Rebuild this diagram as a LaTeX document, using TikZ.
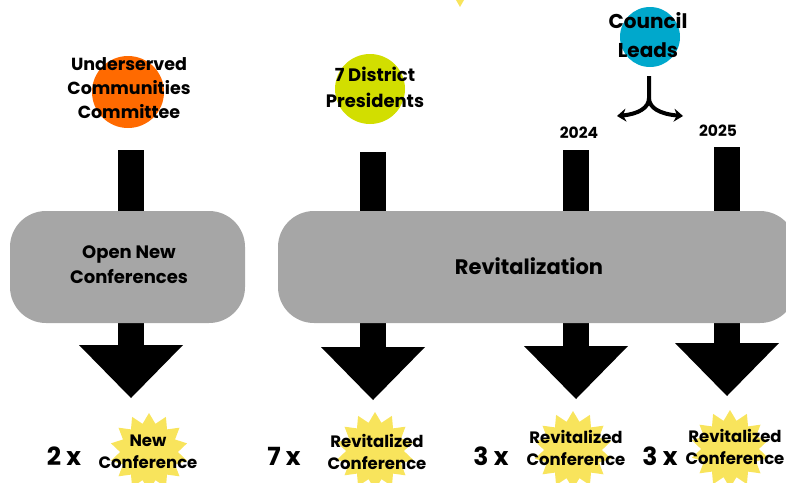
\documentclass[tikz,border=0pt]{standalone}
\usepackage{fontspec}
\setmainfont{Poppins}
\usetikzlibrary{shapes.geometric,arrows.meta}
\definecolor{ucccol}{HTML}{FF6A00}
\definecolor{dpcol}{HTML}{D2DE00}
\definecolor{clcol}{HTML}{00A8CC}
\definecolor{boxgray}{HTML}{A6A6A6}
\definecolor{burstcol}{HTML}{F8E45C}
\begin{document}
\begin{tikzpicture}[x=1pt, y=-1pt, line join=round, >=Stealth,
		lbl/.style={font=\bfseries\fontsize{17.5}{24}\selectfont, align=center, inner sep=0pt},
		yearlbl/.style={font=\bfseries\fontsize{15.5}{16}\selectfont, inner sep=0pt},
		countlbl/.style={font=\bfseries\fontsize{25}{26}\selectfont, inner sep=0pt},
		burstlbl/.style={font=\bfseries\fontsize{16.5}{22}\selectfont, align=center, inner sep=0pt},
		bubble/.style={circle, minimum size=#1, inner sep=0pt},
		burst/.style={star, star points=14, star point ratio=1.35, minimum size=78, inner sep=0pt, fill=burstcol},
		graybox/.style={fill=boxgray, rounded corners=36pt}]
	\clip (0,0) rectangle (786,482);
	% bits cut by the top edge
	\fill[burstcol] (456,0) -- (464,0) -- (460,7) -- cycle;
	% sources
	\node[bubble=72, fill=ucccol] (ucc) at (128,92) {};
	\node[lbl] (ucctxt) at (129,88) {Underserved\\Communities\\Committee};
	\node[bubble=70, fill=dpcol] (dp) at (370,89) {};
	\node[lbl, font=\bfseries\fontsize{18}{26}\selectfont] (dptxt) at (375,87) {7 District\\Presidents};
	\node[bubble=60, fill=clcol] (cl) at (650,37) {};
	\node[lbl, font=\bfseries\fontsize{20}{29}\selectfont] (cltxt) at (648,35) {Council\\Leads};
	\node[yearlbl] (y24) at (579,133) {2024};
	\node[yearlbl] (y25) at (718,131) {2025};
	% split arrow
	\path (649,76) coordinate (S) (649,98) coordinate (K) (617,116) coordinate (L) (683,116) coordinate (R);
	\draw[line width=4pt, -{Stealth[length=9pt, width=13pt]}] (S) -- (K) .. controls (649,108) and (638,114) .. (L);
	\draw[line width=4pt, -{Stealth[length=9pt, width=13pt]}] (K) .. controls (649,108) and (660,114) .. (R);
	% stems and block arrows
	\foreach \x/\t/\h in {131/150/345, 373/152/347, 576/150/346, 727/147/343} {
		\fill (\x-13,\t) rectangle (\x+13,215);
		\fill (\x-13,320) rectangle (\x+13,\h+1);
		\fill (\x-52,\h) -- (\x+52,\h) -- (\x,\h+53) -- cycle;
	}
	% boxes
	\fill[graybox] (10,211) rectangle (245,323);
	\node[lbl, font=\bfseries\fontsize{18}{25}\selectfont] (open) at (129,265) {Open New\\Conferences};
	\fill[graybox] (278,211) rectangle (796,323);
	\node[lbl, font=\bfseries\fontsize{21}{22}\selectfont] (revit) at (529,266) {Revitalization};
	% outcomes
	\foreach \n/\x/\y/\tx/\ty/\c/\cx/\txt in {a/149/452/148/452/2/64/New, b/375/451/377/452/7/284/Revitalized, c/573/450/576/448/3/491/Revitalized, d/730/449/735/447/3/660/Revitalized} {
		\node[burst] (burst\n) at (\x,\y) {};
		\node[burstlbl] (out\n) at (\tx,\ty) {\txt\\Conference};
		\node[countlbl] (count\n) at (\cx,456) {\c\ x};
	}
\end{tikzpicture}
\end{document}
